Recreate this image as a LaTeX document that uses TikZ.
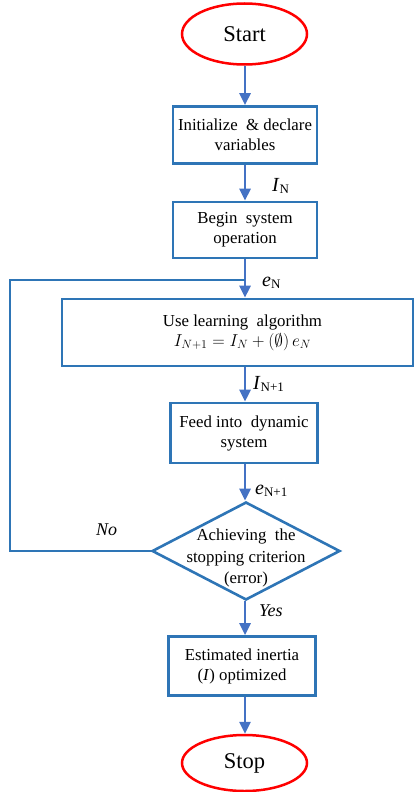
\documentclass[tikz,border=0pt]{standalone}
\usepackage{fontspec}
\setmainfont{Liberation Serif}
\usetikzlibrary{shapes.geometric,arrows.meta}
\definecolor{boxblue}{HTML}{2E75B6}
\definecolor{arrowblue}{HTML}{4472C4}
\definecolor{termred}{HTML}{FF0000}
\newcommand{\varlab}[2]{{\fontsize{20}{20}\selectfont\textit{#1}}{\fontsize{13}{13}\selectfont\raisebox{-0.4ex}{#2}}}
\tikzset{
  terminal/.style={ellipse, draw=termred, line width=2.5pt, inner sep=0pt,
    font=\fontsize{22.5}{24}\selectfont},
  procbox/.style={rectangle, draw=boxblue, line width=2.6pt, inner sep=0pt,
    align=center, font=\fontsize{16.8}{20}\selectfont},
  decision/.style={diamond, draw=boxblue, line width=2.6pt, inner sep=0pt},
  flow/.style={draw=arrowblue, line width=2.6pt, -{Triangle[length=12pt,width=11pt]}},
  loopline/.style={draw=boxblue, line width=2.4pt},
  varlabel/.style={anchor=west, inner sep=0pt},
}
\begin{document}
\begin{tikzpicture}[x=1pt,y=-1pt]
\useasboundingbox (0,0) rectangle (417,792);

% terminals and steps
\node[terminal, minimum width=125pt, minimum height=61pt] (start) at (244.5,34) {Start};
\node[procbox, minimum width=144pt, minimum height=57pt] (init) at (245,135)
  {Initialize \ \& declare\\variables};
\node[procbox, minimum width=144pt, minimum height=56pt] (begin) at (245,230)
  {Begin \ system\\operation};
\node[procbox, minimum width=351pt, minimum height=67pt] (learn) at (237.5,332.5)
  {\hspace{10pt}Use learning \ algorithm\\[0pt]
   \hspace{10pt}{\fontsize{17.5}{20}\selectfont$I_{N+1} = I_N + (\emptyset)\, e_N$}};
\node[procbox, minimum width=147pt, minimum height=60pt] (feed) at (244,433)
  {Feed into \ dynamic\\system};
\node[decision, minimum width=188pt, minimum height=98pt] (check) at (246,551) {};
\node[align=center, inner sep=0pt, font=\fontsize{16.8}{21.5}\selectfont] (checktext) at (246,558)
  {Achieving \ the\\stopping criterion\\(error)};
\node[procbox, minimum width=147pt, minimum height=59pt] (est) at (242,666)
  {Estimated inertia\\(\textit{I}) optimized};
\node[terminal, minimum width=125pt, minimum height=56pt] (stop) at (244.5,763) {Stop};

% main flow along the column x = 245
\coordinate (col) at (245,0);
\draw[flow] (col |- start.south) -- (col |- init.north);
\draw[flow] (col |- init.south) -- (col |- begin.north);
\coordinate (merge) at (245,280);
\draw[flow] (col |- begin.south) -- (col |- learn.north);
\draw[flow] (col |- learn.south) -- (col |- feed.north);
\draw[flow] (col |- feed.south) -- (col |- check.north);
\draw[flow] (col |- check.south) -- (col |- est.north);
\draw[flow] (col |- est.south) -- (col |- stop.north);

% feedback loop
\coordinate (loopcorner) at (10,280);
\draw[loopline] (check.west) -| (loopcorner) -- (merge);

% signal labels
\node[varlabel] (lIN) at (272,186) {\varlab{I}{N}};
\node[varlabel] (leN) at (262,283) {\varlab{e}{N}};
\node[varlabel] (lIN1) at (253,384) {\varlab{I}{N+1}};
\node[varlabel] (leN1) at (255,491) {\varlab{e}{N+1}};
\node[varlabel, font=\fontsize{18}{18}\selectfont\itshape] (lno) at (96,530) {No};
\node[varlabel, font=\fontsize{18}{18}\selectfont\itshape] (lyes) at (259,611) {Yes};
\end{tikzpicture}
\end{document}
